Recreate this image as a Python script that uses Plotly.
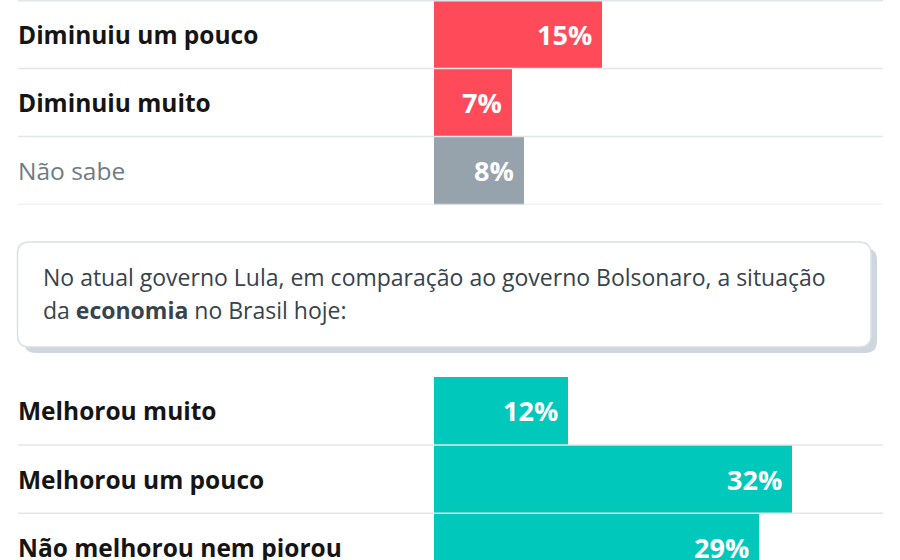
import plotly.graph_objects as go

# ---- data ----
top_categories = ["Não aumentou nem diminuiu", "Diminuiu um pouco", "Diminuiu muito", "Não sabe"]
top_values = [40, 15, 7, 8]
top_colors = ["#ff4a5a", "#ff4a5a", "#ff4a5a", "#96a3ad"]
top_bold = [True, True, True, False]

bottom_categories = ["Melhorou muito", "Melhorou um pouco", "Não melhorou nem piorou"]
bottom_values = [12, 32, 29]
bottom_colors = ["#00c9bc", "#00c9bc", "#00c9bc"]
bottom_bold = [True, True, True]

question_line1 = "No atual governo Lula, em comparação ao governo Bolsonaro, a situação"
question_line2 = "da <b>economia</b> no Brasil hoje:"

W, H = 900, 560
FONT = "Open Sans"


def px(x):
    return x / W


def py(y):
    return 1 - y / H


fig = go.Figure()

fig.add_trace(go.Bar(
    x=top_values, y=top_categories, orientation="h",
    marker=dict(color=top_colors, line=dict(width=0)),
    xaxis="x", yaxis="y", hoverinfo="skip", showlegend=False,
))
fig.add_trace(go.Bar(
    x=bottom_values, y=bottom_categories, orientation="h",
    marker=dict(color=bottom_colors, line=dict(width=0)),
    xaxis="x2", yaxis="y2", hoverinfo="skip", showlegend=False,
))

annotations = []
shapes = []

x_dom = [px(434), px(882)]
x_rng = [0, 40]


def add_panel(cats, vals, bolds, xref, yref):
    for i, (c, v, b) in enumerate(zip(cats, vals, bolds)):
        txt = f"<b>{c}</b>" if b else c
        col = "#151515" if b else "#6e7b84"
        annotations.append(dict(
            x=px(15.5), xref="paper", y=c, yref=yref, text=txt, showarrow=False,
            xanchor="left", yanchor="middle",
            font=dict(family=FONT, size=24.5, color=col),
        ))
        annotations.append(dict(
            x=v, xref=xref, y=c, yref=yref, text=f"<b>{v}%</b>", showarrow=False,
            xanchor="right", yanchor="middle", xshift=-8,
            font=dict(family=FONT, size=27, color="white"),
        ))
    for i in range(len(cats)):
        shapes.append(dict(
            type="line", xref="paper", yref=yref, x0=px(18), x1=px(883),
            y0=i + 0.5, y1=i + 0.5, line=dict(color="#e3e6e9", width=1.5), layer="above",
        ))


add_panel(top_categories, top_values, top_bold, "x", "y")
add_panel(bottom_categories, bottom_values, bottom_bold, "x2", "y2")


def rrect(x0, y0, x1, y1, r):
    pts = (
        f"M {px(x0 + r)},{py(y0)} L {px(x1 - r)},{py(y0)} "
        f"Q {px(x1)},{py(y0)} {px(x1)},{py(y0 + r)} "
        f"L {px(x1)},{py(y1 - r)} Q {px(x1)},{py(y1)} {px(x1 - r)},{py(y1)} "
        f"L {px(x0 + r)},{py(y1)} Q {px(x0)},{py(y1)} {px(x0)},{py(y1 - r)} "
        f"L {px(x0)},{py(y0 + r)} Q {px(x0)},{py(y0)} {px(x0 + r)},{py(y0)} Z"
    )
    return pts


# question box with shadow
shapes.append(dict(type="path", xref="paper", yref="paper", path=rrect(24, 248, 877, 353, 12),
                   fillcolor="#cfd7de", line=dict(width=0), layer="below"))
shapes.append(dict(type="path", xref="paper", yref="paper", path=rrect(17.5, 242, 871, 347, 12),
                   fillcolor="white", line=dict(color="#dbe0e4", width=1.5), layer="below"))

annotations.append(dict(x=px(41), y=py(277), xref="paper", yref="paper", text=question_line1,
                        showarrow=False, xanchor="left", yanchor="middle",
                        font=dict(family=FONT, size=23, color="#37434d")))
annotations.append(dict(x=px(41), y=py(310), xref="paper", yref="paper", text=question_line2,
                        showarrow=False, xanchor="left", yanchor="middle",
                        font=dict(family=FONT, size=23, color="#37434d")))

fig.update_layout(
    width=W, height=H, margin=dict(l=0, r=0, t=0, b=0),
    paper_bgcolor="white", plot_bgcolor="rgba(0,0,0,0)",
    bargap=0,
    xaxis=dict(domain=x_dom, range=x_rng, visible=False, fixedrange=True),
    xaxis2=dict(domain=x_dom, range=x_rng, visible=False, anchor="y2", fixedrange=True),
    yaxis=dict(domain=[py(204.5), 1], range=[3.5, 0.49], type="category",
               categoryorder="array", categoryarray=top_categories, visible=False, anchor="x",
               fixedrange=True),
    yaxis2=dict(domain=[0, py(376.7)], range=[2.184, -0.5], type="category",
                categoryorder="array", categoryarray=bottom_categories, visible=False, anchor="x2",
                fixedrange=True),
    annotations=annotations, shapes=shapes,
)

fig.write_html("out.html", config={"displayModeBar": False},
               post_script="document.body.style.margin='0';")
